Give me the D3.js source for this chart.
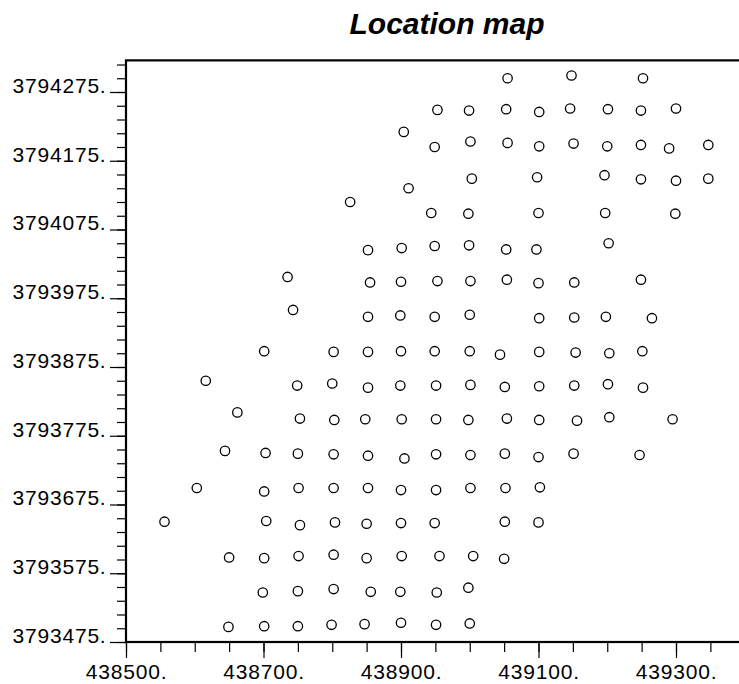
<!DOCTYPE html>
<html>
<head>
<meta charset="utf-8">
<script src="https://cdn.jsdelivr.net/npm/d3@7"></script>
<style>
  html, body { margin: 0; padding: 0; background: #fff; }
  svg { display: block; }
  text { font-family: "Liberation Sans", Arial, sans-serif; fill: #000; }
</style>
</head>
<body>
<svg id="chart" width="739" height="684"></svg>
<script>
// Sample locations (easting, northing in metres)
const easting = [
  439055, 439148, 439252,
  438953, 438999, 439053, 439101, 439146, 439201, 439249, 439300,
  438904,
  438949, 439001, 439055, 439101, 439151, 439200, 439249, 439290, 439347,
  438911, 439003, 439098, 439196, 439249, 439300, 439347,
  438826, 438944, 438998, 439100, 439197, 439299,
  438852, 438901, 438949, 438999, 439053, 439097, 439202,
  438735, 438855, 438900, 438953, 439001, 439054, 439100, 439152, 439249,
  438743, 438852, 438899, 438949, 439000, 439101, 439152, 439198, 439265,
  438701, 438802, 438852, 438900, 438949, 439000, 439044, 439101, 439154, 439203, 439251,
  438616, 438749, 438800, 438852, 438899, 438951, 439001, 439051, 439101, 439152, 439201, 439252,
  438662, 438753, 438803, 438848, 438901, 438951, 438998, 439054, 439101, 439156, 439203, 439295,
  438644, 438703, 438750, 438802, 438852, 438905, 438951, 439001, 439051, 439100, 439151, 439247,
  438603, 438701, 438751, 438802, 438852, 438900, 438951, 439001, 439052, 439102,
  438556, 438704, 438753, 438804, 438850, 438900, 438949, 439051, 439100,
  438650, 438701, 438751, 438802, 438850, 438901, 438956, 439005, 439050,
  438699, 438750, 438802, 438856, 438899, 438952, 438998,
  438649, 438701, 438750, 438799, 438847, 438900, 438951, 439000
];
const northing = [
  3794295, 3794299, 3794295,
  3794249, 3794248, 3794250, 3794246, 3794251, 3794250, 3794248, 3794251,
  3794217,
  3794195, 3794203, 3794201, 3794196, 3794200, 3794196, 3794198, 3794193, 3794198,
  3794135, 3794149, 3794151, 3794154, 3794148, 3794146, 3794149,
  3794115, 3794099, 3794098, 3794099, 3794099, 3794098,
  3794045, 3794048, 3794051, 3794052, 3794046, 3794046, 3794055,
  3794006, 3793998, 3793999, 3794000, 3794000, 3794002, 3793997, 3793998, 3794002,
  3793958, 3793948, 3793950, 3793948, 3793951, 3793946, 3793947, 3793948, 3793946,
  3793898, 3793897, 3793897, 3793898, 3793898, 3793898, 3793893, 3793897, 3793896, 3793895, 3793898,
  3793855, 3793848, 3793851, 3793845, 3793848, 3793848, 3793849, 3793846, 3793847, 3793848, 3793850, 3793845,
  3793809, 3793800, 3793798, 3793799, 3793799, 3793799, 3793798, 3793800, 3793798, 3793797, 3793802, 3793799,
  3793753, 3793750, 3793749, 3793748, 3793746, 3793742, 3793748, 3793747, 3793749, 3793744, 3793749, 3793747,
  3793699, 3793694, 3793699, 3793699, 3793699, 3793696, 3793696, 3793699, 3793699, 3793700,
  3793650, 3793651, 3793645, 3793649, 3793647, 3793648, 3793648, 3793650, 3793649,
  3793598, 3793597, 3793600, 3793602, 3793597, 3793600, 3793600, 3793600, 3793596,
  3793547, 3793549, 3793552, 3793548, 3793548, 3793547, 3793554,
  3793497, 3793498, 3793498, 3793500, 3793501, 3793503, 3793500, 3793502
];

// Axis ticks
const xMajorTicks = [438500, 438700, 438900, 439100, 439300];
const yMajorTicks = [3793475, 3793575, 3793675, 3793775, 3793875, 3793975, 3794075, 3794175, 3794275];
const xMinorStep = 50;
const yMinorStep = 20;

const chartTitle = "Location map";

(function draw() {
  const svg = d3.select("#chart");
  const plotLeft = 126, plotBottom = 642;
  const pxPerUnit = 0.6875;

  const xDomain = [438500, 439400];
  const yDomain = [3793475, 3794321];

  const x = d3.scaleLinear().domain(xDomain)
    .range([plotLeft, plotLeft + (xDomain[1] - xDomain[0]) * pxPerUnit]);
  const y = d3.scaleLinear().domain(yDomain)
    .range([plotBottom, plotBottom - (yDomain[1] - yDomain[0]) * pxPerUnit]);

  const xMinor = d3.range(xDomain[0], xDomain[1] + 1, xMinorStep);
  const yMinor = d3.range(yDomain[0], yDomain[1], yMinorStep);
  const fmt = d => d + ".";

  // Minor ticks
  svg.append("g")
    .attr("transform", `translate(0,${plotBottom})`)
    .call(d3.axisBottom(x).tickValues(xMinor).tickSize(10).tickFormat(""))
    .call(g => g.select(".domain").remove());
  svg.append("g")
    .attr("transform", `translate(${plotLeft},0)`)
    .call(d3.axisLeft(y).tickValues(yMinor).tickSize(9).tickFormat(""))
    .call(g => g.select(".domain").remove());

  // Major ticks with labels
  const xAxis = svg.append("g")
    .attr("transform", `translate(0,${plotBottom})`)
    .call(d3.axisBottom(x).tickValues(xMajorTicks).tickSize(16).tickPadding(6.5).tickFormat(fmt))
    .call(g => g.select(".domain").remove());
  const yAxis = svg.append("g")
    .attr("transform", `translate(${plotLeft},0)`)
    .call(d3.axisLeft(y).tickValues(yMajorTicks).tickSize(16).tickPadding(3.5).tickFormat(fmt))
    .call(g => g.select(".domain").remove());

  svg.selectAll(".tick line").attr("stroke", "#000").attr("stroke-width", 1.2);
  xAxis.selectAll("text").attr("font-size", 21).attr("letter-spacing", "0.8px")
    .attr("font-family", "Liberation Sans, Arial, sans-serif");
  yAxis.selectAll("text").attr("font-size", 21).attr("letter-spacing", "0.8px").attr("dy", "0.02em")
    .attr("font-family", "Liberation Sans, Arial, sans-serif");

  // Plot frame
  svg.append("rect")
    .attr("x", x(xDomain[0]))
    .attr("y", y(yDomain[1]))
    .attr("width", x(xDomain[1]) - x(xDomain[0]))
    .attr("height", y(yDomain[0]) - y(yDomain[1]))
    .attr("fill", "none")
    .attr("stroke", "#000")
    .attr("stroke-width", 2.2);

  // Sample points
  svg.append("g")
    .selectAll("circle")
    .data(d3.range(easting.length))
    .join("circle")
    .attr("cx", i => x(easting[i]))
    .attr("cy", i => y(northing[i]))
    .attr("r", 4.7)
    .attr("fill", "#fff")
    .attr("stroke", "#000")
    .attr("stroke-width", 1.3);

  // Title
  svg.append("text")
    .attr("x", 447)
    .attr("y", 34)
    .attr("text-anchor", "middle")
    .attr("font-size", 30)
    .attr("font-weight", "bold")
    .attr("font-style", "italic")
    .text(chartTitle);
})();
</script>
</body>
</html>
